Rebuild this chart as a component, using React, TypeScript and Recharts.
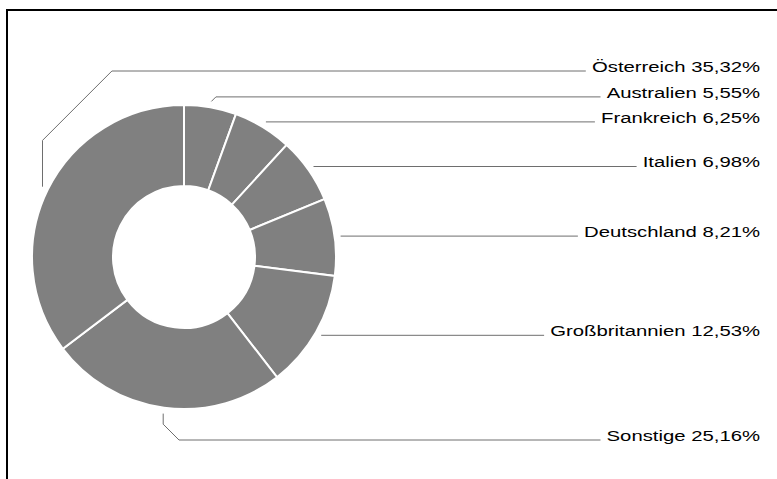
import React from 'react';
import { PieChart, Pie, Cell } from 'recharts';

// slices, clockwise from 12 o'clock
const countries = ['Australien', 'Frankreich', 'Italien', 'Deutschland', 'Großbritannien', 'Sonstige', 'Österreich'];
const shares = [5.55, 6.25, 6.98, 8.21, 12.53, 25.16, 35.32];

const data = countries.map((name, i) => ({ name, value: shares[i] }));

const CX = 184;
const CY = 257;
const OUTER = 152;
const INNER = 71;
const LINE_R = OUTER + 6;
const TEXT_RIGHT = 760;
const FONT_SIZE = 15.5;
const STRETCH = 1.31;
const GAP = 25;
const RAD = Math.PI / 180;

const fmt = (v: number) => v.toFixed(2).replace('.', ',') + '%';

// work out the row (y) of every label so they don't collide
function layoutRows() {
  const total = shares.reduce((a, b) => a + b, 0);
  let cum = 0;
  const items = shares.map((v) => {
    const mid = 90 - (360 * (cum + v / 2)) / total;
    cum += v;
    const ax = CX + LINE_R * Math.cos(-mid * RAD);
    const ay = CY + LINE_R * Math.sin(-mid * RAD);
    let row = ay;
    if (ax < CX) row = ay < CY ? CY - OUTER - 34 : CY + OUTER + 31;
    return { ax, ay, row };
  });
  // stack from bottom to top
  const order = items.map((_, i) => i).sort((a, b) => items[a].row - items[b].row);
  for (let k = order.length - 2; k >= 0; k--) {
    const cur = items[order[k]];
    const below = items[order[k + 1]];
    cur.row = Math.min(cur.row, below.row - GAP);
  }
  return items.map((it) => it.row);
}

const rows = layoutRows();

let ctx: CanvasRenderingContext2D | null = null;
function textWidth(s: string) {
  if (!ctx) ctx = document.createElement('canvas').getContext('2d');
  if (!ctx) return s.length * 8;
  ctx.font = `${FONT_SIZE}px "Liberation Sans", Arial, sans-serif`;
  return ctx.measureText(s).width;
}

const renderLabel = (props: any) => {
  const { cx, cy, midAngle, index } = props;
  const d = data[index];
  const ax = cx + LINE_R * Math.cos(-midAngle * RAD);
  const ay = cy + LINE_R * Math.sin(-midAngle * RAD);
  const row = rows[index];
  const label = `${d.name} ${fmt(d.value)}`;
  const lineEnd = TEXT_RIGHT - textWidth(label) * STRETCH - 6;

  const pts: [number, number][] = [[ax, ay]];
  const dy = row - ay;
  if (Math.abs(dy) > 0.5) {
    if (ax < cx) {
      const diag = Math.abs(dy) * 0.6;
      const vy = row - Math.sign(dy) * diag;
      pts.push([ax, vy]);
      pts.push([ax + diag, row]);
    } else {
      pts.push([ax + Math.abs(dy), row]);
    }
  }
  pts.push([lineEnd, row]);
  const path = pts.map((p, i) => `${i ? 'L' : 'M'}${p[0].toFixed(1)},${p[1].toFixed(1)}`).join(' ');

  return (
    <g key={`lbl-${index}`}>
      <path d={path} stroke="#6e6e6e" strokeWidth={1} fill="none" />
      <text
        transform={`translate(${TEXT_RIGHT}, ${row + 1}) scale(${STRETCH}, 1)`}
        x={0}
        y={0}
        textAnchor="end"
        fill="#000"
        fontSize={FONT_SIZE}
        fontFamily='"Liberation Sans", Arial, sans-serif'
      >
        {label}
      </text>
    </g>
  );
};

export default function App() {
  return (
    <div style={{ position: 'fixed', left: 0, top: 0, width: 777, height: 479, overflow: 'hidden', background: '#fff' }}>
      {/* frame: only top and left edges fall inside the view */}
      <div style={{ position: 'absolute', left: 6, top: 9, width: 771, height: 2, background: '#000' }} />
      <div style={{ position: 'absolute', left: 6, top: 9, width: 2, height: 470, background: '#000' }} />
      <div style={{ position: 'absolute', left: 0, top: 0 }}>
        <PieChart width={777} height={479} margin={{ top: 0, right: 0, bottom: 0, left: 0 }}>
          <Pie
            data={data}
            dataKey="value"
            nameKey="name"
            cx={CX}
            cy={CY}
            innerRadius={INNER}
            outerRadius={OUTER}
            startAngle={90}
            endAngle={-270}
            stroke="#fff"
            strokeWidth={2}
            label={renderLabel}
            labelLine={false}
            isAnimationActive={false}
          >
            {data.map((d) => (
              <Cell key={d.name} fill="#808080" />
            ))}
          </Pie>
        </PieChart>
      </div>
    </div>
  );
}
